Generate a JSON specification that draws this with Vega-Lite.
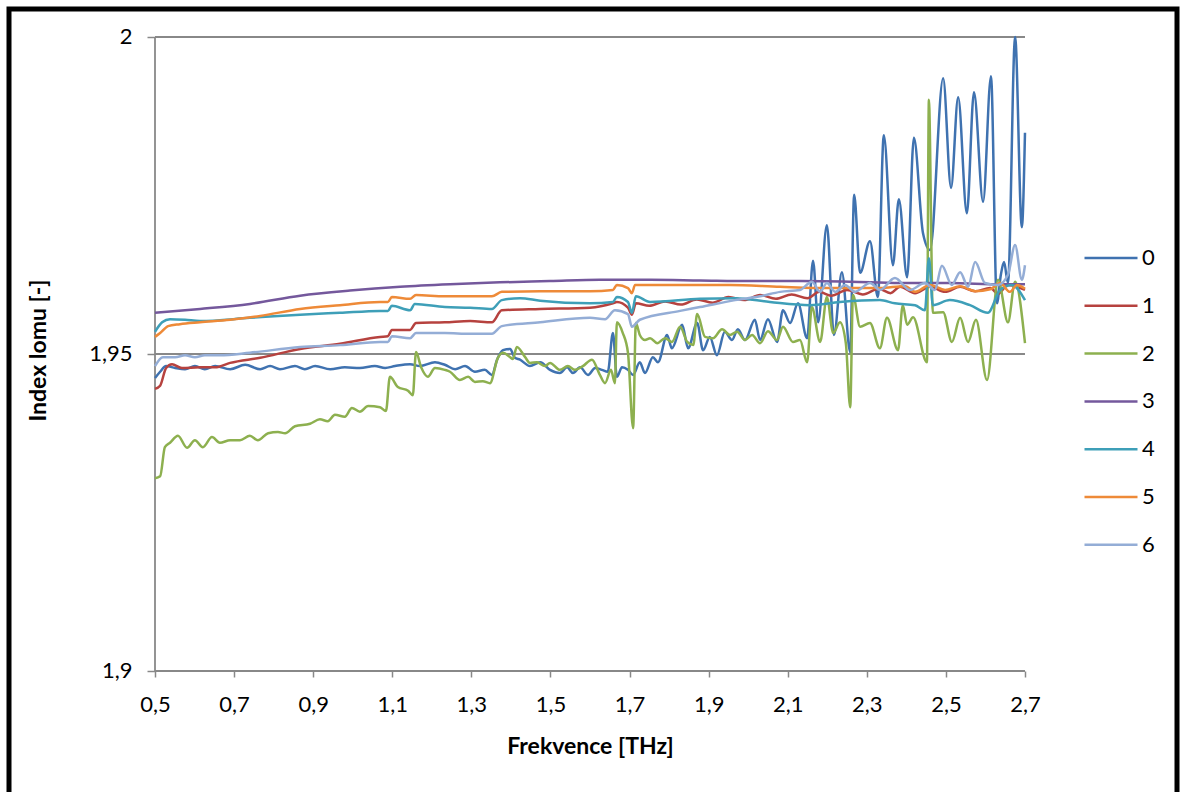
{
"$schema":"https://vega.github.io/schema/vega-lite/v6.json",
"width":1168,"height":786,
"autosize":{"type":"none"},
"padding":{"left":9,"top":9,"right":6,"bottom":-3},
"background":"white",
"config":{"view":{"stroke":"black","strokeWidth":5},"font":"Lato",
"legend":{"symbolType":"stroke","symbolSize":2809,"symbolStrokeWidth":2.5,"labelFontSize":22,"labelColor":"#000000","rowPadding":8.8,"labelOffset":3,"padding":0}},
"datasets":{
"g":[{"f":0.5,"f2":2.7,"v":2,"v2":2},{"f":0.5,"f2":2.7,"v":1.95,"v2":1.95},{"f":0.5,"f2":2.7,"v":1.9,"v2":1.9},{"f":0.5,"f2":0.5,"v":1.9,"v2":2}],
"d":[
{"s":"0","f":0.5,"v":1.9462},{"s":"0","f":0.513,"v":1.9472},{"s":"0","f":0.528,"v":1.9481},{"s":"0","f":0.551,"v":1.9478},{"s":"0","f":0.576,"v":1.9476},{"s":"0","f":0.601,"v":1.9481},{"s":"0","f":0.626,"v":1.9476},{"s":"0","f":0.652,"v":1.9481},{"s":"0","f":0.69,"v":1.9476},{"s":"0","f":0.728,"v":1.9483},{"s":"0","f":0.766,"v":1.9476},{"s":"0","f":0.791,"v":1.9481},{"s":"0","f":0.816,"v":1.9476},{"s":"0","f":0.854,"v":1.9481},{"s":"0","f":0.879,"v":1.9476},{"s":"0","f":0.905,"v":1.9481},{"s":"0","f":0.943,"v":1.9476},{"s":"0","f":0.98,"v":1.9479},{"s":"0","f":1.018,"v":1.9478},{"s":"0","f":1.056,"v":1.9481},{"s":"0","f":1.082,"v":1.9478},{"s":"0","f":1.107,"v":1.9481},{"s":"0","f":1.145,"v":1.9484},{"s":"0","f":1.17,"v":1.9481},{"s":"0","f":1.208,"v":1.9487},{"s":"0","f":1.233,"v":1.9483},{"s":"0","f":1.259,"v":1.9476},{"s":"0","f":1.284,"v":1.9481},{"s":"0","f":1.309,"v":1.9472},{"s":"0","f":1.334,"v":1.9475},{"s":"0","f":1.352,"v":1.9467},{"s":"0","f":1.365,"v":1.9491},{"s":"0","f":1.38,"v":1.9506},{"s":"0","f":1.398,"v":1.9508},{"s":"0","f":1.41,"v":1.9494},{"s":"0","f":1.423,"v":1.9491},{"s":"0","f":1.448,"v":1.9481},{"s":"0","f":1.474,"v":1.9487},{"s":"0","f":1.499,"v":1.9475},{"s":"0","f":1.524,"v":1.947},{"s":"0","f":1.542,"v":1.9479},{"s":"0","f":1.557,"v":1.947},{"s":"0","f":1.575,"v":1.9479},{"s":"0","f":1.595,"v":1.9467},{"s":"0","f":1.613,"v":1.9478},{"s":"0","f":1.63,"v":1.9475},{"s":"0","f":1.645,"v":1.9472},{"s":"0","f":1.658,"v":1.9533},{"s":"0","f":1.668,"v":1.9464},{"s":"0","f":1.681,"v":1.9479},{"s":"0","f":1.696,"v":1.9475},{"s":"0","f":1.709,"v":1.9467},{"s":"0","f":1.726,"v":1.9487},{"s":"0","f":1.739,"v":1.947},{"s":"0","f":1.759,"v":1.9495},{"s":"0","f":1.772,"v":1.9487},{"s":"0","f":1.795,"v":1.953},{"s":"0","f":1.807,"v":1.9509},{"s":"0","f":1.833,"v":1.9546},{"s":"0","f":1.848,"v":1.9509},{"s":"0","f":1.871,"v":1.9549},{"s":"0","f":1.886,"v":1.9506},{"s":"0","f":1.903,"v":1.9527},{"s":"0","f":1.921,"v":1.9498},{"s":"0","f":1.941,"v":1.9535},{"s":"0","f":1.959,"v":1.9522},{"s":"0","f":1.974,"v":1.9539},{"s":"0","f":1.992,"v":1.9522},{"s":"0","f":2.017,"v":1.9554},{"s":"0","f":2.03,"v":1.9522},{"s":"0","f":2.05,"v":1.9555},{"s":"0","f":2.073,"v":1.9519},{"s":"0","f":2.088,"v":1.9569},{"s":"0","f":2.106,"v":1.9549},{"s":"0","f":2.126,"v":1.958},{"s":"0","f":2.149,"v":1.9525},{"s":"0","f":2.164,"v":1.9647},{"s":"0","f":2.177,"v":1.955},{"s":"0","f":2.199,"v":1.9703},{"s":"0","f":2.217,"v":1.953},{"s":"0","f":2.237,"v":1.9629},{"s":"0","f":2.258,"v":1.9503},{"s":"0","f":2.268,"v":1.9751},{"s":"0","f":2.283,"v":1.9628},{"s":"0","f":2.308,"v":1.9678},{"s":"0","f":2.328,"v":1.959},{"s":"0","f":2.343,"v":1.9845},{"s":"0","f":2.366,"v":1.964},{"s":"0","f":2.381,"v":1.9744},{"s":"0","f":2.402,"v":1.9621},{"s":"0","f":2.419,"v":1.9841},{"s":"0","f":2.442,"v":1.9691},{"s":"0","f":2.46,"v":1.9664},{"s":"0","f":2.493,"v":1.9935},{"s":"0","f":2.513,"v":1.9762},{"s":"0","f":2.531,"v":1.9905},{"s":"0","f":2.553,"v":1.9722},{"s":"0","f":2.571,"v":1.9913},{"s":"0","f":2.594,"v":1.974},{"s":"0","f":2.614,"v":1.9938},{"s":"0","f":2.629,"v":1.958},{"s":"0","f":2.639,"v":1.9625},{"s":"0","f":2.647,"v":1.9645},{"s":"0","f":2.657,"v":1.9612},{"s":"0","f":2.675,"v":2.0},{"s":"0","f":2.692,"v":1.97},{"s":"0","f":2.7,"v":1.9849},
{"s":"1","f":0.5,"v":1.9445},{"s":"1","f":0.513,"v":1.945},{"s":"1","f":0.528,"v":1.9478},{"s":"1","f":0.543,"v":1.9484},{"s":"1","f":0.568,"v":1.9478},{"s":"1","f":0.614,"v":1.9479},{"s":"1","f":0.652,"v":1.9479},{"s":"1","f":0.69,"v":1.9486},{"s":"1","f":0.766,"v":1.9494},{"s":"1","f":0.867,"v":1.9508},{"s":"1","f":0.968,"v":1.9516},{"s":"1","f":1.069,"v":1.9527},{"s":"1","f":1.089,"v":1.9528},{"s":"1","f":1.099,"v":1.9538},{"s":"1","f":1.145,"v":1.9538},{"s":"1","f":1.16,"v":1.9549},{"s":"1","f":1.233,"v":1.955},{"s":"1","f":1.297,"v":1.9552},{"s":"1","f":1.352,"v":1.955},{"s":"1","f":1.377,"v":1.9569},{"s":"1","f":1.474,"v":1.9571},{"s":"1","f":1.6,"v":1.9573},{"s":"1","f":1.658,"v":1.958},{"s":"1","f":1.668,"v":1.9582},{"s":"1","f":1.696,"v":1.9573},{"s":"1","f":1.706,"v":1.9562},{"s":"1","f":1.716,"v":1.958},{"s":"1","f":1.75,"v":1.9576},{"s":"1","f":1.79,"v":1.9583},{"s":"1","f":1.83,"v":1.9578},{"s":"1","f":1.87,"v":1.9586},{"s":"1","f":1.91,"v":1.9581},{"s":"1","f":1.95,"v":1.959},{"s":"1","f":1.99,"v":1.9585},{"s":"1","f":2.03,"v":1.9593},{"s":"1","f":2.07,"v":1.9587},{"s":"1","f":2.11,"v":1.9594},{"s":"1","f":2.15,"v":1.9588},{"s":"1","f":2.18,"v":1.9598},{"s":"1","f":2.21,"v":1.9592},{"s":"1","f":2.25,"v":1.9601},{"s":"1","f":2.29,"v":1.9594},{"s":"1","f":2.33,"v":1.9603},{"s":"1","f":2.36,"v":1.9596},{"s":"1","f":2.384,"v":1.9606},{"s":"1","f":2.422,"v":1.9596},{"s":"1","f":2.46,"v":1.9606},{"s":"1","f":2.498,"v":1.9598},{"s":"1","f":2.536,"v":1.9606},{"s":"1","f":2.574,"v":1.9599},{"s":"1","f":2.612,"v":1.9604},{"s":"1","f":2.632,"v":1.9595},{"s":"1","f":2.657,"v":1.9609},{"s":"1","f":2.7,"v":1.9601},
{"s":"2","f":0.5,"v":1.9304},{"s":"2","f":0.513,"v":1.9307},{"s":"2","f":0.525,"v":1.9353},{"s":"2","f":0.538,"v":1.936},{"s":"2","f":0.558,"v":1.9371},{"s":"2","f":0.581,"v":1.9352},{"s":"2","f":0.601,"v":1.9364},{"s":"2","f":0.621,"v":1.9353},{"s":"2","f":0.644,"v":1.9369},{"s":"2","f":0.664,"v":1.936},{"s":"2","f":0.69,"v":1.9364},{"s":"2","f":0.715,"v":1.9364},{"s":"2","f":0.74,"v":1.9371},{"s":"2","f":0.76,"v":1.9364},{"s":"2","f":0.786,"v":1.9375},{"s":"2","f":0.811,"v":1.9377},{"s":"2","f":0.829,"v":1.9375},{"s":"2","f":0.854,"v":1.9386},{"s":"2","f":0.892,"v":1.939},{"s":"2","f":0.917,"v":1.9397},{"s":"2","f":0.937,"v":1.9394},{"s":"2","f":0.955,"v":1.9404},{"s":"2","f":0.98,"v":1.9401},{"s":"2","f":0.998,"v":1.9415},{"s":"2","f":1.018,"v":1.9409},{"s":"2","f":1.039,"v":1.9418},{"s":"2","f":1.069,"v":1.9416},{"s":"2","f":1.084,"v":1.941},{"s":"2","f":1.094,"v":1.9464},{"s":"2","f":1.114,"v":1.9448},{"s":"2","f":1.14,"v":1.9442},{"s":"2","f":1.152,"v":1.9435},{"s":"2","f":1.16,"v":1.9503},{"s":"2","f":1.173,"v":1.9479},{"s":"2","f":1.19,"v":1.9464},{"s":"2","f":1.208,"v":1.9478},{"s":"2","f":1.233,"v":1.9475},{"s":"2","f":1.246,"v":1.9472},{"s":"2","f":1.271,"v":1.9459},{"s":"2","f":1.292,"v":1.9464},{"s":"2","f":1.309,"v":1.9456},{"s":"2","f":1.329,"v":1.9457},{"s":"2","f":1.347,"v":1.9454},{"s":"2","f":1.367,"v":1.9494},{"s":"2","f":1.38,"v":1.9502},{"s":"2","f":1.398,"v":1.9495},{"s":"2","f":1.405,"v":1.9492},{"s":"2","f":1.415,"v":1.9511},{"s":"2","f":1.436,"v":1.9495},{"s":"2","f":1.448,"v":1.9486},{"s":"2","f":1.466,"v":1.9487},{"s":"2","f":1.486,"v":1.9481},{"s":"2","f":1.499,"v":1.9486},{"s":"2","f":1.524,"v":1.9475},{"s":"2","f":1.544,"v":1.9481},{"s":"2","f":1.562,"v":1.9475},{"s":"2","f":1.582,"v":1.9481},{"s":"2","f":1.605,"v":1.9491},{"s":"2","f":1.625,"v":1.9467},{"s":"2","f":1.638,"v":1.9454},{"s":"2","f":1.653,"v":1.9475},{"s":"2","f":1.663,"v":1.9454},{"s":"2","f":1.668,"v":1.955},{"s":"2","f":1.683,"v":1.9533},{"s":"2","f":1.696,"v":1.9502},{"s":"2","f":1.709,"v":1.9383},{"s":"2","f":1.716,"v":1.9549},{"s":"2","f":1.726,"v":1.953},{"s":"2","f":1.739,"v":1.9522},{"s":"2","f":1.752,"v":1.9525},{"s":"2","f":1.77,"v":1.9517},{"s":"2","f":1.79,"v":1.9525},{"s":"2","f":1.807,"v":1.9519},{"s":"2","f":1.828,"v":1.9543},{"s":"2","f":1.846,"v":1.9519},{"s":"2","f":1.861,"v":1.9514},{"s":"2","f":1.871,"v":1.9563},{"s":"2","f":1.891,"v":1.9527},{"s":"2","f":1.911,"v":1.9525},{"s":"2","f":1.934,"v":1.9539},{"s":"2","f":1.954,"v":1.953},{"s":"2","f":1.972,"v":1.9535},{"s":"2","f":1.992,"v":1.9522},{"s":"2","f":2.01,"v":1.953},{"s":"2","f":2.03,"v":1.9517},{"s":"2","f":2.05,"v":1.9536},{"s":"2","f":2.073,"v":1.9522},{"s":"2","f":2.088,"v":1.9543},{"s":"2","f":2.113,"v":1.9519},{"s":"2","f":2.131,"v":1.9522},{"s":"2","f":2.149,"v":1.9487},{"s":"2","f":2.161,"v":1.9574},{"s":"2","f":2.182,"v":1.9519},{"s":"2","f":2.199,"v":1.959},{"s":"2","f":2.215,"v":1.9533},{"s":"2","f":2.232,"v":1.955},{"s":"2","f":2.247,"v":1.9517},{"s":"2","f":2.258,"v":1.9416},{"s":"2","f":2.265,"v":1.9593},{"s":"2","f":2.283,"v":1.9543},{"s":"2","f":2.308,"v":1.9549},{"s":"2","f":2.333,"v":1.9509},{"s":"2","f":2.351,"v":1.9557},{"s":"2","f":2.379,"v":1.9506},{"s":"2","f":2.391,"v":1.9577},{"s":"2","f":2.402,"v":1.9546},{"s":"2","f":2.417,"v":1.9558},{"s":"2","f":2.452,"v":1.9487},{"s":"2","f":2.457,"v":1.9901},{"s":"2","f":2.467,"v":1.9565},{"s":"2","f":2.493,"v":1.9566},{"s":"2","f":2.515,"v":1.9519},{"s":"2","f":2.536,"v":1.9557},{"s":"2","f":2.556,"v":1.9519},{"s":"2","f":2.576,"v":1.9554},{"s":"2","f":2.604,"v":1.9459},{"s":"2","f":2.632,"v":1.9617},{"s":"2","f":2.657,"v":1.955},{"s":"2","f":2.675,"v":1.9614},{"s":"2","f":2.7,"v":1.9517},
{"s":"3","f":0.5,"v":1.9565},{"s":"3","f":0.614,"v":1.9571},{"s":"3","f":0.74,"v":1.9579},{"s":"3","f":0.867,"v":1.9592},{"s":"3","f":0.993,"v":1.96},{"s":"3","f":1.12,"v":1.9606},{"s":"3","f":1.246,"v":1.961},{"s":"3","f":1.372,"v":1.9613},{"s":"3","f":1.499,"v":1.9615},{"s":"3","f":1.625,"v":1.9617},{"s":"3","f":1.752,"v":1.9617},{"s":"3","f":1.878,"v":1.9616},{"s":"3","f":2.005,"v":1.9615},{"s":"3","f":2.131,"v":1.9615},{"s":"3","f":2.258,"v":1.9614},{"s":"3","f":2.384,"v":1.9612},{"s":"3","f":2.51,"v":1.9612},{"s":"3","f":2.637,"v":1.961},{"s":"3","f":2.7,"v":1.961},
{"s":"4","f":0.5,"v":1.9535},{"s":"4","f":0.518,"v":1.955},{"s":"4","f":0.538,"v":1.9555},{"s":"4","f":0.576,"v":1.9554},{"s":"4","f":0.614,"v":1.9552},{"s":"4","f":0.74,"v":1.9557},{"s":"4","f":0.867,"v":1.9562},{"s":"4","f":0.968,"v":1.9565},{"s":"4","f":1.069,"v":1.9568},{"s":"4","f":1.089,"v":1.9568},{"s":"4","f":1.099,"v":1.9576},{"s":"4","f":1.145,"v":1.9569},{"s":"4","f":1.157,"v":1.9579},{"s":"4","f":1.233,"v":1.9574},{"s":"4","f":1.297,"v":1.9573},{"s":"4","f":1.352,"v":1.9571},{"s":"4","f":1.377,"v":1.9585},{"s":"4","f":1.423,"v":1.9588},{"s":"4","f":1.474,"v":1.9584},{"s":"4","f":1.6,"v":1.958},{"s":"4","f":1.658,"v":1.9582},{"s":"4","f":1.668,"v":1.959},{"s":"4","f":1.696,"v":1.9582},{"s":"4","f":1.706,"v":1.9565},{"s":"4","f":1.716,"v":1.9591},{"s":"4","f":1.752,"v":1.9582},{"s":"4","f":1.878,"v":1.9587},{"s":"4","f":1.967,"v":1.9588},{"s":"4","f":2.055,"v":1.9582},{"s":"4","f":2.156,"v":1.9577},{"s":"4","f":2.232,"v":1.9582},{"s":"4","f":2.333,"v":1.9585},{"s":"4","f":2.371,"v":1.958},{"s":"4","f":2.422,"v":1.9577},{"s":"4","f":2.447,"v":1.9569},{"s":"4","f":2.457,"v":1.9651},{"s":"4","f":2.467,"v":1.9577},{"s":"4","f":2.51,"v":1.9585},{"s":"4","f":2.561,"v":1.9577},{"s":"4","f":2.606,"v":1.9565},{"s":"4","f":2.637,"v":1.9601},{"s":"4","f":2.667,"v":1.9609},{"s":"4","f":2.7,"v":1.9585},
{"s":"5","f":0.5,"v":1.9527},{"s":"5","f":0.513,"v":1.9533},{"s":"5","f":0.533,"v":1.9544},{"s":"5","f":0.563,"v":1.9547},{"s":"5","f":0.614,"v":1.955},{"s":"5","f":0.69,"v":1.9554},{"s":"5","f":0.766,"v":1.956},{"s":"5","f":0.867,"v":1.9571},{"s":"5","f":0.968,"v":1.9577},{"s":"5","f":1.069,"v":1.9582},{"s":"5","f":1.089,"v":1.9582},{"s":"5","f":1.099,"v":1.959},{"s":"5","f":1.145,"v":1.9587},{"s":"5","f":1.16,"v":1.9593},{"s":"5","f":1.233,"v":1.9591},{"s":"5","f":1.297,"v":1.9591},{"s":"5","f":1.352,"v":1.9591},{"s":"5","f":1.377,"v":1.9598},{"s":"5","f":1.474,"v":1.9599},{"s":"5","f":1.6,"v":1.9599},{"s":"5","f":1.658,"v":1.9601},{"s":"5","f":1.668,"v":1.9609},{"s":"5","f":1.696,"v":1.9604},{"s":"5","f":1.706,"v":1.9596},{"s":"5","f":1.714,"v":1.9609},{"s":"5","f":1.828,"v":1.9609},{"s":"5","f":1.954,"v":1.9609},{"s":"5","f":2.081,"v":1.9606},{"s":"5","f":2.207,"v":1.9604},{"s":"5","f":2.333,"v":1.9604},{"s":"5","f":2.397,"v":1.9607},{"s":"5","f":2.422,"v":1.9598},{"s":"5","f":2.46,"v":1.9609},{"s":"5","f":2.498,"v":1.9601},{"s":"5","f":2.536,"v":1.9607},{"s":"5","f":2.574,"v":1.9599},{"s":"5","f":2.612,"v":1.9602},{"s":"5","f":2.637,"v":1.9612},{"s":"5","f":2.662,"v":1.9598},{"s":"5","f":2.68,"v":1.9609},{"s":"5","f":2.7,"v":1.9603},
{"s":"6","f":0.5,"v":1.9481},{"s":"6","f":0.52,"v":1.9495},{"s":"6","f":0.551,"v":1.9495},{"s":"6","f":0.576,"v":1.9498},{"s":"6","f":0.601,"v":1.9495},{"s":"6","f":0.626,"v":1.9498},{"s":"6","f":0.664,"v":1.9498},{"s":"6","f":0.74,"v":1.9502},{"s":"6","f":0.867,"v":1.9511},{"s":"6","f":0.968,"v":1.9514},{"s":"6","f":1.069,"v":1.9519},{"s":"6","f":1.089,"v":1.9519},{"s":"6","f":1.099,"v":1.9528},{"s":"6","f":1.145,"v":1.9525},{"s":"6","f":1.16,"v":1.9533},{"s":"6","f":1.233,"v":1.9533},{"s":"6","f":1.297,"v":1.9532},{"s":"6","f":1.352,"v":1.9532},{"s":"6","f":1.377,"v":1.9544},{"s":"6","f":1.474,"v":1.955},{"s":"6","f":1.6,"v":1.9557},{"s":"6","f":1.638,"v":1.9555},{"s":"6","f":1.663,"v":1.9569},{"s":"6","f":1.696,"v":1.9563},{"s":"6","f":1.706,"v":1.9543},{"s":"6","f":1.726,"v":1.9554},{"s":"6","f":1.828,"v":1.9568},{"s":"6","f":1.878,"v":1.9574},{"s":"6","f":1.967,"v":1.9585},{"s":"6","f":2.03,"v":1.9591},{"s":"6","f":2.081,"v":1.9598},{"s":"6","f":2.131,"v":1.9601},{"s":"6","f":2.161,"v":1.9614},{"s":"6","f":2.182,"v":1.9598},{"s":"6","f":2.199,"v":1.9612},{"s":"6","f":2.22,"v":1.9598},{"s":"6","f":2.245,"v":1.9609},{"s":"6","f":2.27,"v":1.9598},{"s":"6","f":2.308,"v":1.9612},{"s":"6","f":2.333,"v":1.9601},{"s":"6","f":2.371,"v":1.962},{"s":"6","f":2.409,"v":1.9601},{"s":"6","f":2.447,"v":1.9612},{"s":"6","f":2.472,"v":1.9601},{"s":"6","f":2.49,"v":1.9639},{"s":"6","f":2.515,"v":1.9609},{"s":"6","f":2.536,"v":1.9629},{"s":"6","f":2.556,"v":1.9606},{"s":"6","f":2.574,"v":1.9645},{"s":"6","f":2.599,"v":1.9612},{"s":"6","f":2.632,"v":1.9609},{"s":"6","f":2.657,"v":1.9625},{"s":"6","f":2.675,"v":1.9672},{"s":"6","f":2.692,"v":1.9617},{"s":"6","f":2.7,"v":1.964}
]},
"encoding":{
"x":{"field":"f","type":"quantitative","title":"Frekvence [THz]","scale":{"domain":[0.1308,3.0844],"nice":false,"zero":false},
"axis":{"values":[0.5,0.7,0.9,1.1,1.3,1.5,1.7,1.9,2.1,2.3,2.5,2.7],"offset":-124,"domain":false,"grid":false,"ticks":true,"tickSize":6,"tickColor":"#888888","tickWidth":1.5,"labelExpr":"replace(format(datum.value,'.1f'),'.',',')","labelFontSize":22,"labelColor":"#000000","labelPadding":17,"labelFlush":false,"labelOverlap":false,"titleFontSize":23,"titleFontWeight":"bold","titleColor":"#000000","titleX":581,"titleY":75,"titleBaseline":"middle","titleAlign":"center"}},
"y":{"field":"v","type":"quantitative","title":"Index lomu [-]","scale":{"domain":[1.8804416,2.0044164],"nice":false,"zero":false},
"axis":{"values":[1.9,1.95,2],"offset":-146,"domain":false,"grid":false,"ticks":true,"tickSize":8,"tickColor":"#888888","tickWidth":1.5,"labelExpr":"replace(format(datum.value,'.2~f'),'.',',')","labelFontSize":22,"labelColor":"#000000","labelPadding":15,"labelFlush":false,"labelOverlap":false,"titleFontSize":23,"titleFontWeight":"bold","titleColor":"#000000","titleX":-117,"titleY":341,"titleAngle":270,"titleBaseline":"middle","titleAlign":"center"}}
},
"layer":[
{"data":{"name":"g"},"mark":{"type":"rule","color":"#888888","strokeWidth":1.8},"encoding":{"x2":{"field":"f2"},"y2":{"field":"v2"}}},
{"data":{"name":"d"},"mark":{"type":"line","interpolate":"monotone","strokeWidth":2.5},
"encoding":{"color":{"field":"s","type":"nominal","scale":{"domain":["0","1","2","3","4","5","6"],"range":["#3F72B0","#B6423F","#8DB04F","#74589C","#3E9FB8","#EE8A38","#94ADD6"]},
"legend":{"title":null,"orient":"none","legendX":1074,"legendY":221}}}}
]
}
